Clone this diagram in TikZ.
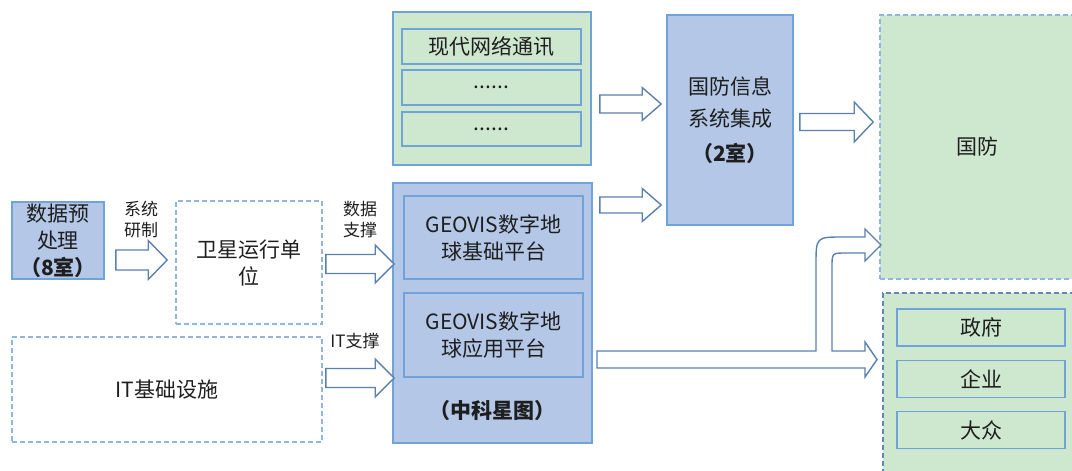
\documentclass[tikz,border=0pt]{standalone}
\usepackage{fontspec}
\setmainfont{Noto Sans CJK SC}
\usetikzlibrary{calc}
\definecolor{bluefill}{HTML}{B4C7E7}
\definecolor{greenfill}{HTML}{CEE7CF}
\definecolor{boxline}{HTML}{6FA3DA}
\definecolor{dashline}{HTML}{8DB6E2}
\definecolor{gdash}{HTML}{5C88BA}
\definecolor{arrline}{HTML}{5A80B0}
\definecolor{txt}{HTML}{1E1E1E}
% block arrow: from, to, y, gap left, gap right, shaft half, head half
\newcommand{\blockarrow}[7]{%
  \draw[barrow] let \p1=($(#1.east |- 0,#3)+(#4,0)$), \p2=($(#2.west |- 0,#3)-(#5,0)$) in
    (\x1,\y1+#6pt) -- (\x2-19pt,\y1+#6pt) -- (\x2-19pt,\y1+#7pt) -- (\x2,\y1)
    -- (\x2-19pt,\y1-#7pt) -- (\x2-19pt,\y1-#6pt) -- (\x1,\y1-#6pt) -- cycle;}
\begin{document}
\begin{tikzpicture}[x=1pt,y=-1pt,
    font=\fontsize{21}{27}\selectfont, text=txt,
    box/.style={draw=boxline, line width=1.6pt, inner sep=0pt, align=center},
    bluebox/.style={box, fill=bluefill},
    greenbox/.style={box, fill=greenfill},
    dashbox/.style={draw=dashline, line width=1.6pt, dash pattern=on 5pt off 3pt,
      inner sep=0pt, align=center},
    gdashbox/.style={dashbox, fill=greenfill},
    small/.style={font=\fontsize{17}{21}\selectfont, align=center},
    barrow/.style={draw=arrline, line width=1.4pt, fill=white, line join=miter}]
  \useasboundingbox (0,0) rectangle (1072,471);
  \clip (0,0) rectangle (1072,471);
  % left column
  \node[bluebox, minimum width=92pt, minimum height=77pt] (yuchuli) at (58,240.5)
    {数据预\\处理\\\textbf{（8室）}};
  \node[dashbox, minimum width=146pt, minimum height=123pt] (weixing) at (249,262.5)
    {卫星运行单\\位};
  \node[dashbox, minimum width=310pt, minimum height=105pt] (itjichu) at (167,389.5)
    {IT基础设施};
  \node[small] (yanzhi) at (141,220) {系统\\研制};
  \node[small] (shuju) at (360,220) {数据\\支撑};
  \node[small] (itzc) at (355,341) {IT支撑};
  % middle column
  \node[greenbox, minimum width=198pt, minimum height=153pt] (tongxinqu) at (492,88.5) {};
  \node[box, minimum width=179pt, minimum height=35pt] (tongxun) at (491.5,46.5) {现代网络通讯};
  \node[box, minimum width=179pt, minimum height=35pt] (dots1) at (491.5,87.5) {......};
  \node[box, minimum width=179pt, minimum height=34pt] (dots2) at (491.5,129) {......};
  \node[bluebox, minimum width=199pt, minimum height=260pt] (zhongke) at (492.5,313) {};
  \node[box, minimum width=179pt, minimum height=83pt] (jichu) at (493.5,237.5)
    {GEOVIS数字地\\球基础平台};
  \node[box, minimum width=179pt, minimum height=84pt] (yingyong) at (493.5,335)
    {GEOVIS数字地\\球应用平台};
  \node (zkname) at (492.5,411) {\textbf{（中科星图）}};
  \node[bluebox, minimum width=126pt, minimum height=210pt] (jicheng) at (730,120)
    {国防信息\\[5pt]系统集成\\[8pt]\textbf{（2室）}};
  % right column
  \node[gdashbox, minimum width=194pt, minimum height=264pt] (guofang) at (977,147) {国防};
  \node[gdashbox, draw=gdash, minimum width=191pt, minimum height=186pt] (minyong) at (978.5,386) {};
  \node[box, minimum width=168pt, minimum height=37pt] (zhengfu) at (981,327.5) {政府};
  \node[box, minimum width=168pt, minimum height=37pt] (qiye) at (981,379) {企业};
  \node[box, minimum width=168pt, minimum height=37pt] (dazhong) at (981,430) {大众};
  % arrows
  \blockarrow{yuchuli}{weixing}{260}{11}{8}{10}{19.5}
  \blockarrow{weixing}{zhongke}{264}{3}{-2}{9.5}{19}
  \blockarrow{itjichu}{zhongke}{378}{3}{-2}{9.5}{19}
  \blockarrow{tongxinqu}{jicheng}{104}{8}{5}{9}{16.5}
  \blockarrow{zhongke}{jicheng}{205}{7}{5}{8}{16.5}
  \blockarrow{jicheng}{guofang}{122}{6}{6}{8.5}{20}
  \draw[barrow] (597,351) -- (816,351) -- (816,265) .. controls (816,237) .. (843,237)
    -- (865,237) -- (865,229) -- (881,245) -- (865,261) -- (865,253) -- (846,253)
    .. controls (832,253) .. (832,267) -- (832,351) -- (865,351) -- (865,342)
    -- (877,359.5) -- (865,377) -- (865,368) -- (597,368) -- cycle;
\end{tikzpicture}
\end{document}
